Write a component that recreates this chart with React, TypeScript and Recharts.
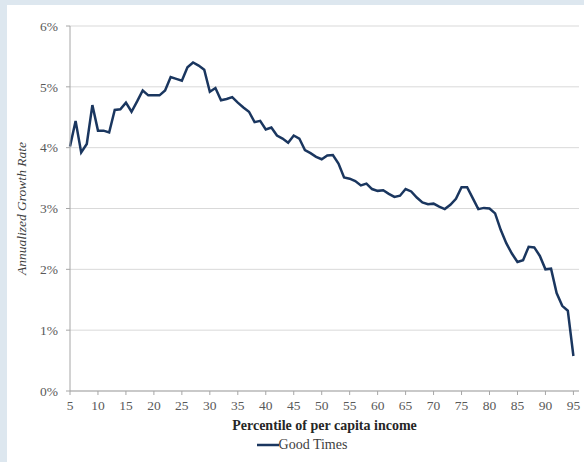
import React from 'react'
import { LineChart, Line, XAxis, YAxis, CartesianGrid, Legend, Label } from 'recharts'

// ─── Data ───
const PERCENTILES = [
  5, 6, 7, 8, 9, 10, 11, 12, 13, 14, 15, 16, 17, 18, 19, 20, 21, 22, 23, 24,
  25, 26, 27, 28, 29, 30, 31, 32, 33, 34, 35, 36, 37, 38, 39, 40, 41, 42, 43, 44,
  45, 46, 47, 48, 49, 50, 51, 52, 53, 54, 55, 56, 57, 58, 59, 60, 61, 62, 63, 64,
  65, 66, 67, 68, 69, 70, 71, 72, 73, 74, 75, 76, 77, 78, 79, 80, 81, 82, 83, 84,
  85, 86, 87, 88, 89, 90, 91, 92, 93, 94, 95,
]

const GOOD_TIMES = [
  4.02, 4.44, 3.92, 4.06, 4.70, 4.28, 4.28, 4.25, 4.62, 4.63, 4.74, 4.59, 4.76, 4.94, 4.86, 4.86,
  4.86, 4.94, 5.16, 5.13, 5.10, 5.32, 5.40, 5.35, 5.28, 4.92, 4.98, 4.78, 4.80, 4.83, 4.74, 4.66,
  4.59, 4.42, 4.44, 4.30, 4.33, 4.20, 4.15, 4.08, 4.20, 4.15, 3.96, 3.91, 3.85, 3.81, 3.87, 3.88,
  3.74, 3.51, 3.49, 3.45, 3.38, 3.41, 3.32, 3.29, 3.30, 3.24, 3.19, 3.21, 3.32, 3.28, 3.18, 3.10,
  3.07, 3.08, 3.03, 2.99, 3.06, 3.16, 3.35, 3.35, 3.17, 2.99, 3.01, 3.00, 2.92, 2.65, 2.43, 2.26,
  2.12, 2.15, 2.37, 2.36, 2.22, 2.00, 2.01, 1.61, 1.40, 1.32, 0.575,
]

const X_TICKS = [5, 10, 15, 20, 25, 30, 35, 40, 45, 50, 55, 60, 65, 70, 75, 80, 85, 90, 95]
const Y_TICKS = [0, 1, 2, 3, 4, 5, 6]

const SERIES_NAME = 'Good Times'
const LINE_COLOR = '#1a365f'
const AXIS_COLOR = '#a6a6a6'
const FONT = '"Liberation Serif", "DejaVu Serif", serif'

const data = PERCENTILES.map((p, i) => ({ pct: p, value: GOOD_TIMES[i] }))

function LegendContent() {
  return (
    <div style={{ display: 'flex', alignItems: 'center', justifyContent: 'center', fontFamily: FONT, fontSize: 14, color: '#404040' }}>
      <svg width={22} height={6} style={{ display: 'block' }}>
        <line x1={0} y1={3} x2={22} y2={3} stroke={LINE_COLOR} strokeWidth={2.5} />
      </svg>
      <span>{SERIES_NAME}</span>
    </div>
  )
}

export default function App() {
  return (
    <div style={{ position: 'absolute', left: 0, top: 0, width: 584, height: 462, background: '#dde7ef' }}>
      <div style={{ position: 'absolute', left: 7, top: 5, width: 577, height: 457, background: '#ffffff' }} />
      <div style={{ position: 'absolute', left: 0, top: 0 }}>
        <LineChart width={584} height={462} data={data} margin={{ top: 26, right: 5, bottom: 41, left: 0 }}>
          <CartesianGrid vertical={false} stroke="#d9d9d9" />
          <XAxis
            dataKey="pct"
            type="number"
            domain={[5, 96]}
            ticks={X_TICKS}
            interval={0}
            height={30}
            stroke={AXIS_COLOR}
            tickSize={4}
            tickMargin={5}
            tick={{ fontSize: 13.5, fill: '#595959', fontFamily: FONT }}
          >
            <Label
              content={({ viewBox }: any) => (
                <text
                  x={viewBox.x + viewBox.width / 2}
                  y={430}
                  textAnchor="middle"
                  fontFamily={FONT}
                  fontSize={14}
                  fontWeight="bold"
                  fill="#262626"
                >
                  Percentile of per capita income
                </text>
              )}
            />
          </XAxis>
          <YAxis
            type="number"
            domain={[0, 6]}
            ticks={Y_TICKS}
            width={70}
            stroke={AXIS_COLOR}
            tickSize={4}
            tickMargin={8}
            tickFormatter={(v: number) => `${v}%`}
            tick={{ fontSize: 13.5, fill: '#595959', fontFamily: FONT }}
          >
            <Label
              content={({ viewBox }: any) => {
                const cy = viewBox.y + viewBox.height / 2
                return (
                  <text
                    x={26}
                    y={cy}
                    transform={`rotate(-90, 26, ${cy})`}
                    textAnchor="middle"
                    fontFamily={FONT}
                    fontSize={13.5}
                    fontStyle="italic"
                    fill="#404040"
                  >
                    Annualized Growth Rate
                  </text>
                )
              }}
            />
          </YAxis>
          <Legend
            layout="horizontal"
            verticalAlign="middle"
            align="center"
            wrapperStyle={{ top: 437, left: 0, width: 604 }}
            content={() => <LegendContent />}
          />
          <Line
            type="linear"
            dataKey="value"
            name={SERIES_NAME}
            stroke={LINE_COLOR}
            strokeWidth={2.5}
            dot={false}
            activeDot={false}
            isAnimationActive={false}
          />
        </LineChart>
      </div>
    </div>
  )
}
